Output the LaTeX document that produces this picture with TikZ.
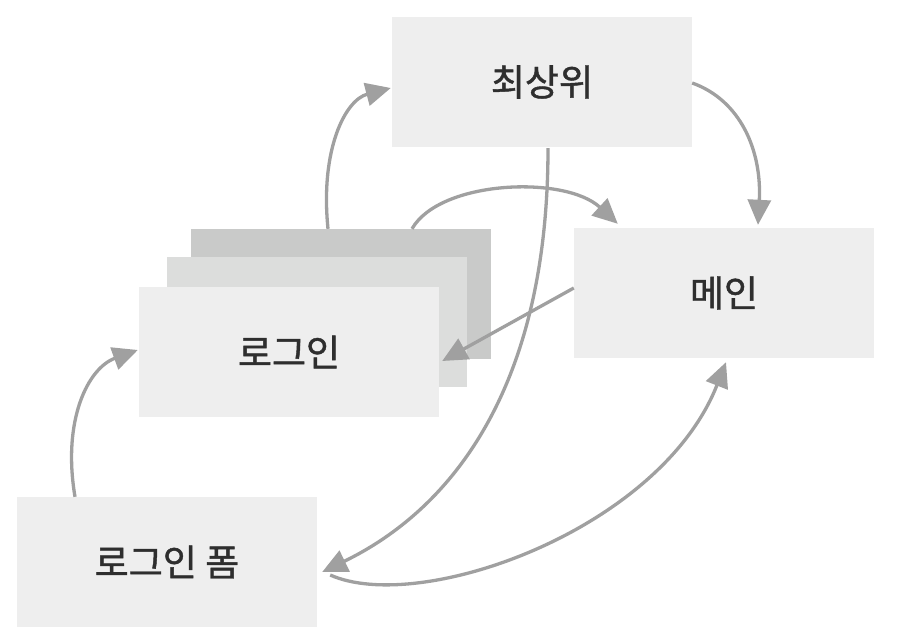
\documentclass[tikz,border=0pt]{standalone}
\usepackage{fontspec}
\newfontfamily\kr[FakeBold=1.2]{Noto Sans CJK KR}
\usetikzlibrary{arrows.meta,calc}
\definecolor{boxc}{HTML}{EEEEEE}
\definecolor{midc}{HTML}{DCDDDC}
\definecolor{backc}{HTML}{C9CAC9}
\definecolor{arrc}{HTML}{A0A0A0}
\definecolor{textc}{HTML}{2E2E2E}
\begin{document}
\begin{tikzpicture}[x=1pt,y=-1pt,
  box/.style={fill=boxc, minimum width=300pt, minimum height=130pt, inner sep=0pt,
    font=\kr\fontsize{37}{37}\selectfont, text=textc},
  conn/.style={draw=arrc, line width=3.3pt, -{Triangle[length=25pt,width=23pt]}}]
\fill[white] (0,0) rectangle (898,644);
\useasboundingbox (0,0) rectangle (898,644);
\node[box] (top) at (542,82) {최상위};
\node[box] (main) at (724,293) {메인};
\node[box, fill=backc] (loginB) at (341,294) {};
\node[box, fill=midc] (loginM) at (317,322) {};
\node[box] (login) at (289,352) {로그인};
\node[box] (form) at (167,562) {로그인 폼};
% login -> top
\draw[conn] ($(loginB.north)+(-13,0)$) .. controls (320,150) and (345,100) .. ($(top.west)+(-1,6)$);
% login -> main
\draw[conn] ($(loginB.north)+(71,0)$) .. controls (440,180) and (565,175) .. ($(main.north west)+(44,-4)$);
% top -> main
\draw[conn] ($(top.east)+(0,1)$) .. controls (740,100) and (762,150) .. ($(main.north)+(34,-3)$);
% main -> login
\draw[conn] ($(main.west)+(0,-5)$) -- ($(login.east)+(3,9)$);
% top -> form
\draw[conn] ($(top.south)+(6,1)$) .. controls (548,390) and (450,510) .. ($(form.east)+(5,10)$);
% form -> main
\draw[conn] ($(form.east)+(13,13)$) .. controls (420,615) and (660,530) .. ($(main.south)+(2,4)$);
% form -> login
\draw[conn] ($(form.north)+(-92,0)$) .. controls (62,420) and (88,368) .. ($(login.west)+(-1,-2)$);
\end{tikzpicture}
\end{document}
